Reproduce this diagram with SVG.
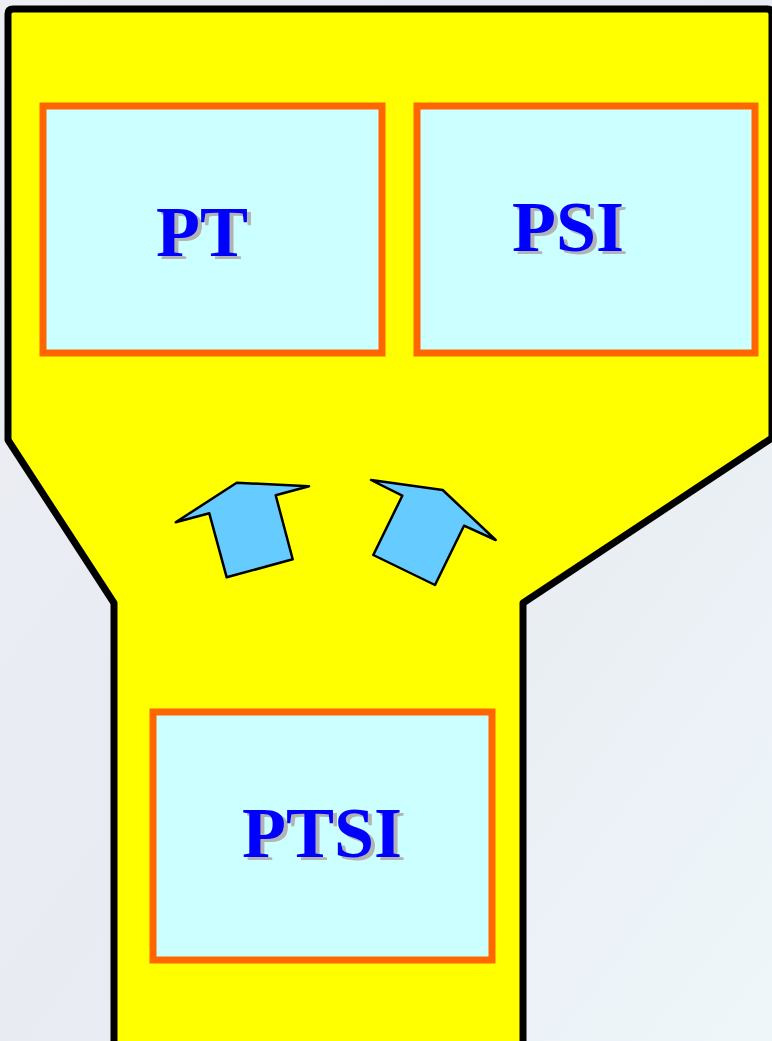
<svg xmlns="http://www.w3.org/2000/svg" width="772" height="1041" viewBox="0 0 772 1041">
<defs>
<linearGradient id="bg" x1="0" y1="0" x2="1" y2="1">
<stop offset="0" stop-color="#eceef4"/>
<stop offset="0.5" stop-color="#e8ebf1"/>
<stop offset="1" stop-color="#eef6fa"/>
</linearGradient>
<style>
.box{fill:#ccffff;stroke:#ff6600;stroke-width:7}
.lbl{font-family:"Liberation Serif","Times New Roman",serif;font-weight:bold;font-size:72px;text-anchor:middle}
.sh{fill:#b3b3b3}
.fg{fill:#0000ff}
.arrow{fill:#66ccff;stroke:#000;stroke-width:2.5;stroke-linejoin:round}
</style>
</defs>
<rect x="0" y="0" width="772" height="1041" fill="url(#bg)"/>
<path id="funnel" d="M8,14 Q8,9 13,9 L767,9 Q772,9 772,14 L772,438 L523,603 L523,1050 L114,1050 L114,603 L8,440 Z" fill="#ffff00" stroke="#000" stroke-width="7" stroke-linejoin="round"/>
<g id="PT">
<rect class="box" x="43" y="106" width="339" height="247"/>
<text class="lbl sh" x="206" y="259">PT</text>
<text class="lbl fg" x="202" y="256">PT</text>
</g>
<g id="PSI">
<rect class="box" x="417" y="106" width="338" height="247"/>
<text class="lbl sh" x="572" y="254">PSI</text>
<text class="lbl fg" x="568" y="251">PSI</text>
</g>
<g id="PTSI">
<rect class="box" x="153" y="712" width="339" height="248"/>
<text class="lbl sh" x="326" y="860">PTSI</text>
<text class="lbl fg" x="322" y="857">PTSI</text>
</g>
<g id="connectors">
<polygon class="arrow" points="175.7,522.3 236.7,482.7 309,486.3 275.7,495.3 292.7,559.3 226.7,577.3 209.3,513.3"/>
<polygon class="arrow" points="371,480 442.7,490 495.7,540 464,525.7 435,585 373.3,555 402.3,495.7"/>
</g>
</svg>
